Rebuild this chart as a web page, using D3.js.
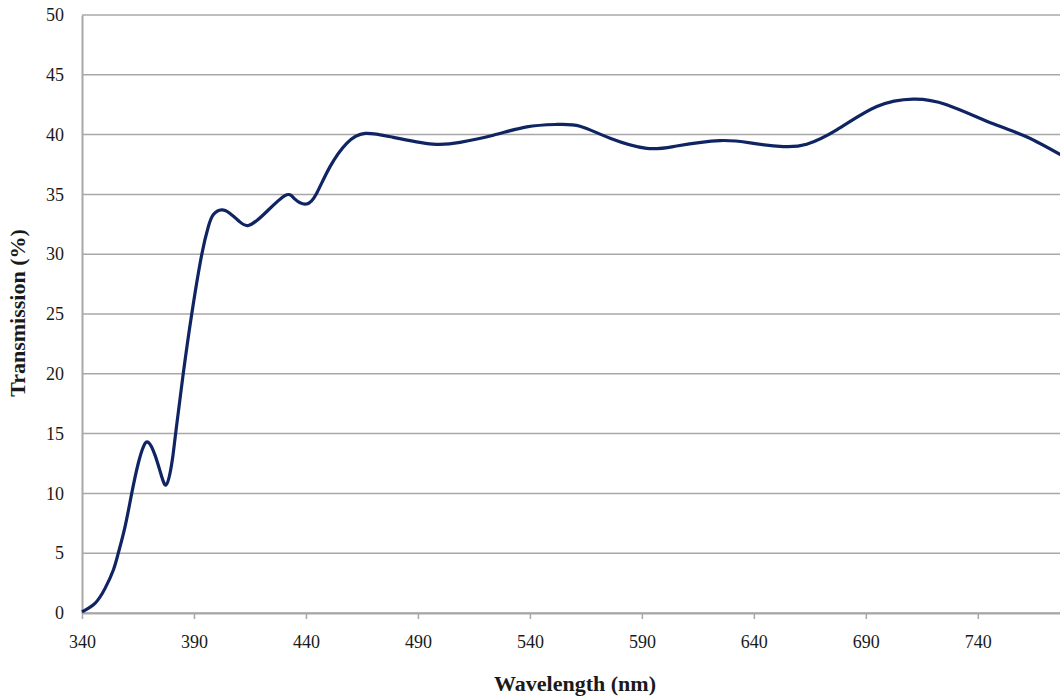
<!DOCTYPE html>
<html>
<head>
<meta charset="utf-8">
<script src="https://cdn.jsdelivr.net/npm/d3@7"></script>
<style>
  html, body { margin: 0; padding: 0; background: #fff; }
  svg { display: block; }
  text { font-family: "Liberation Serif", "Times New Roman", serif; fill: #1a1a1a; }
</style>
</head>
<body>
<svg id="chart" width="1060" height="696"></svg>
<script>
// Transmission spectrum, wavelength in nm
const wavelength = [340, 345.8, 350.3, 354, 356.2, 359.2, 362.2, 365.1, 367.4, 369.6, 372.6, 375.6, 377.5, 379.2, 380.7, 382.2, 385.2, 389, 393.5, 396.4, 398.6, 402.4, 406.1, 410.5, 414.3, 421, 430.6, 435.1, 440.3, 444.8, 450.7, 458.2, 466.4, 479, 496.7, 508.8, 523.7, 538.6, 552, 562.4, 575.8, 592.2, 605.5, 624.9, 639.8, 653.2, 663.6, 677, 694.9, 711.2, 726.1, 746.9, 762, 780];
const transmission = [0.1, 0.81, 2.06, 3.6, 5.0, 7.2, 10.0, 12.5, 13.9, 14.27, 13.2, 11.4, 10.7, 11.6, 13.3, 15.6, 20.0, 25.0, 30.0, 32.3, 33.3, 33.7, 33.4, 32.7, 32.4, 33.3, 34.9, 34.6, 34.2, 35.1, 37.3, 39.27, 40.1, 39.77, 39.2, 39.35, 39.95, 40.65, 40.85, 40.7, 39.7, 38.85, 39.05, 39.5, 39.27, 39.0, 39.2, 40.4, 42.35, 42.97, 42.5, 40.9, 39.8, 38.0];

const xTicks = [340, 390, 440, 490, 540, 590, 640, 690, 740];
const yTicks = [0, 5, 10, 15, 20, 25, 30, 35, 40, 45, 50];

const svg = d3.select("#chart");
const plotLeft = 82, plotTop = 15, plotBottom = 613;

const x = d3.scaleLinear().domain([340, 780]).range([plotLeft, plotLeft + 440 * 2.2395]);
const y = d3.scaleLinear().domain([0, 50]).range([plotBottom, plotTop]);

// horizontal gridlines
svg.append("g")
  .selectAll("line")
  .data(yTicks)
  .join("line")
  .attr("x1", plotLeft).attr("x2", 1060)
  .attr("y1", d => y(d)).attr("y2", d => y(d))
  .attr("stroke", "#a8a8a8").attr("stroke-width", 1.5);

// y axis
const yAxis = svg.append("g")
  .attr("transform", `translate(${plotLeft},0)`)
  .call(d3.axisLeft(y).tickValues(yTicks).tickSize(0).tickPadding(18));
yAxis.select(".domain").attr("stroke", "#a8a8a8").attr("stroke-width", 2);
yAxis.selectAll("text").style("font-size", "18px").style("font-family", "Liberation Serif").attr("fill", "#1a1a1a");

// x axis
const xAxis = svg.append("g")
  .attr("transform", `translate(0,${plotBottom})`)
  .call(d3.axisBottom(x).tickValues(xTicks).tickSize(6).tickSizeOuter(0).tickPadding(16));
xAxis.select(".domain").attr("stroke", "#a8a8a8").attr("stroke-width", 2);
xAxis.selectAll(".tick line").attr("stroke", "#a8a8a8").attr("stroke-width", 1.5);
xAxis.selectAll("text").style("font-size", "18px").style("font-family", "Liberation Serif").attr("fill", "#1a1a1a");

// transmission curve
const data = wavelength.map((w, i) => [w, transmission[i]]);
const line = d3.line()
  .x(d => x(d[0]))
  .y(d => y(d[1]))
  .curve(d3.curveNatural);

svg.append("path")
  .datum(data)
  .attr("d", line)
  .attr("fill", "none")
  .attr("stroke", "#0f2462")
  .attr("stroke-width", 3.2)
  .attr("stroke-linejoin", "round");

// axis titles
svg.append("text")
  .attr("x", 575).attr("y", 691)
  .attr("text-anchor", "middle")
  .style("font-size", "22px").style("font-weight", "bold")
  .text("Wavelength (nm)");

svg.append("text")
  .attr("transform", "translate(25,313) rotate(-90)")
  .attr("text-anchor", "middle")
  .style("font-size", "22px").style("font-weight", "bold")
  .text("Transmission (%)");
</script>
</body>
</html>
